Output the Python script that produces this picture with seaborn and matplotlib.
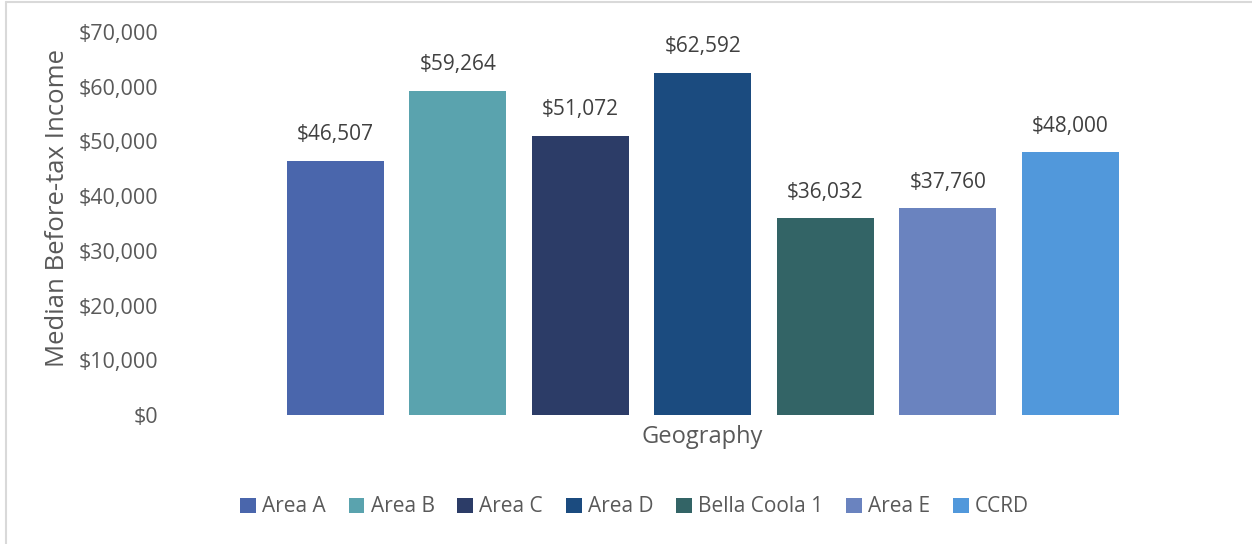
import matplotlib
matplotlib.use("Agg")
import matplotlib.pyplot as plt
import pandas as pd
import seaborn as sns
from matplotlib.lines import Line2D
from matplotlib.ticker import FuncFormatter

# ============================================================
# Data
# ============================================================
geographies = ["Area A", "Area B", "Area C", "Area D", "Bella Coola 1", "Area E", "CCRD"]
median_income = [46507, 59264, 51072, 62592, 36032, 37760, 48000]
bar_colors = ["#4A66AC", "#5AA3AE", "#2C3C67", "#1B4B7F", "#336466", "#6A83BF", "#5198DB"]

df = pd.DataFrame({"Geography": geographies, "Income": median_income})

# ============================================================
# Style
# ============================================================
sns.set_theme(style="white")
plt.rcParams["font.family"] = ["Open Sans", "DejaVu Sans"]

TICK_GREY = "#595959"
LABEL_DARK = "#404040"

fig = plt.figure(figsize=(12.52, 5.44), dpi=100)
ax = fig.add_axes([274 / 1252, 1 - 415 / 544, (1131.5 - 274) / 1252, (415 - 32) / 544])

sns.barplot(
    data=df, x="Geography", y="Income", hue="Geography",
    palette=bar_colors, width=0.79, saturation=1, ax=ax, legend=True,
    linewidth=0,
)

for cont in ax.containers:
    ax.bar_label(cont, labels=[f"${v:,.0f}" for v in cont.datavalues],
                 padding=11, fontsize=15, color=LABEL_DARK)

ax.set_ylim(0, 70000)
ax.set_xlim(-0.5, len(geographies) - 0.5)
ax.set_yticks(range(0, 70001, 10000))
ax.yaxis.set_major_formatter(FuncFormatter(lambda v, _: f"${v:,.0f}"))
# right edge of tick labels sits ~116 px left of the axes
ax.tick_params(axis="y", labelsize=15.5, labelcolor=TICK_GREY, length=0, pad=116 * 0.72)
ax.set_xticks([])
ax.set_xlabel("")
ax.set_ylabel("")
fig.text(702.5 / 1252, 1 - 437 / 544, "Geography",
         ha="center", va="center", fontsize=17, color=TICK_GREY)
fig.text(58 / 1252, 1 - 208 / 544, "Median Before-tax Income", rotation=90,
         ha="center", va="center", fontsize=18.5, color=TICK_GREY)

for s in ax.spines.values():
    s.set_visible(False)

sns.move_legend(
    ax, "center", bbox_to_anchor=(634.5 / 1252, 1 - 507 / 544),
    bbox_transform=fig.transFigure, ncol=7, frameon=False, title=None,
    fontsize=15, handlelength=0.75, handleheight=0.75, handletextpad=0.3,
    columnspacing=1.1, labelcolor=TICK_GREY,
)

# Light chart-area border
fig.add_artist(Line2D([5.5 / 1252, 5.5 / 1252], [0, 1 - 2 / 544],
                      transform=fig.transFigure, color="#D9D9D9", lw=1.5))
fig.add_artist(Line2D([5.5 / 1252, 1], [1 - 2 / 544, 1 - 2 / 544],
                      transform=fig.transFigure, color="#D9D9D9", lw=1.5))

fig.savefig("out.png", dpi=100)
